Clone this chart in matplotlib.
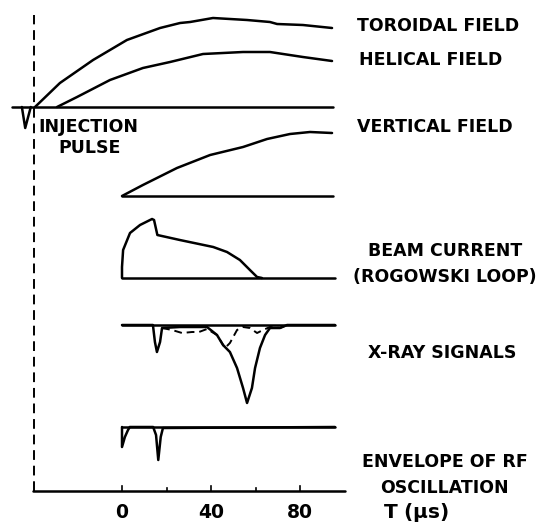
import numpy as np
import matplotlib
matplotlib.use('Agg')
import matplotlib.pyplot as plt

# time axis in microseconds, amplitudes in arbitrary (screen) units, + = up
t_tor = [-39.1, -27.9, -13.0, 2.2, 17.1, 26.1, 30.6, 40.9, 56.2, 66.5, 69.7, 81.3, 94.4]
a_tor = [0, 24, 47, 67, 79, 84, 85, 89, 87, 85, 83, 82, 79]

t_hel = [-29.2, -20.2, -5.4, 9.4, 21.6, 36.4, 54.4, 66.5, 81.3, 94.4]
a_hel = [0, 10, 27, 39, 45, 53, 55, 55, 50, 46]

t_inj = [-45, -43.5, -41]
a_inj = [0, -21, 0]

t_vert = [0, 9.4, 24.7, 39.6, 54.4, 65.2, 75.5, 84.5, 94.4]
a_vert = [0, 11, 28, 41, 49, 57, 62, 64, 63]

t_beam = [0, 0, 0.5, 3.6, 8.1, 13.5, 14.4, 15.9, 26, 41, 47.2, 53, 57.5, 60.7, 62.9]
a_beam = [0, 11, 28, 45, 53, 59, 58, 43, 38, 31, 26, 18, 8, 1, 0]

t_xs = [0, 13.9, 14.8, 15.7, 17.1, 18.0, 26.1, 38.2, 42.7, 45.4, 48.5, 51.7, 54.4,
        56.2, 58.4, 59.8, 62.0, 64.3, 66.5, 71, 74.2, 95.7]
a_xs = [0, 0, -17, -27, -17, -3, -2, -2, -10, -20, -27, -43, -63,
        -78, -63, -43, -23, -10, -3, -3, 0, 0]

t_xd = [18.0, 22.5, 27.0, 31.5, 34.6, 38.2, 42.7, 46.3, 48.5, 51.7, 54.4, 57.5,
        60.7, 63.4, 66.5, 71.0, 74.2]
a_xd = [-3, -5, -8, -7, -7, -4, -10, -23, -18, -5, -2, -3,
        -8, -5, -2, -3, 0]

t_rf = [0, 0, 1.3, 2.7, 3.5, 14, 15.3, 16.3, 17.4, 18.4, 95.7]
a_rf = [0, -20, -10, -3, 0, 0, -8, -33, -10, -1, 0]

ticks_major = [0, 40, 80]
ticks_minor = [20, 60]

labels = ['TOROIDAL FIELD', 'HELICAL FIELD', 'VERTICAL FIELD',
          'BEAM CURRENT\n(ROGOWSKI LOOP)', 'X-RAY SIGNALS',
          'ENVELOPE OF RF\nOSCILLATION']

# layout: baselines (screen units, y up, figure 524 high)
base_tor = 417
base_vert = 328
base_beam = 246
base_xray = 199
base_rf = 97
base_axis = 33

fig = plt.figure(figsize=(5.47, 5.24), dpi=100)
ax = fig.add_axes([0, 0, 1, 1])
ax.set_xlim(-122 / 2.225, (547 - 122) / 2.225)
ax.set_ylim(0, 524)
ax.set_axis_off()

kw = dict(color='black', lw=1.8, solid_capstyle='round', solid_joinstyle='round')

# toroidal / helical + injection pulse on shared baseline
ax.plot([-49.4, 94.8], [base_tor, base_tor], **kw)
ax.plot(t_tor, np.array(a_tor) + base_tor, **kw)
ax.plot(t_hel, np.array(a_hel) + base_tor, **kw)
ax.plot(t_inj, np.array(a_inj) + base_tor, **kw)

# vertical field
ax.plot([0, 94.8], [base_vert, base_vert], **kw)
ax.plot(t_vert, np.array(a_vert) + base_vert, **kw)

# beam current
ax.plot([0, 95.7], [base_beam, base_beam], **kw)
ax.plot(t_beam, np.array(a_beam) + base_beam, **kw)

# x-ray signals
ax.plot([0, 95.7], [base_xray, base_xray], **kw)
ax.plot(t_xs, np.array(a_xs) + base_xray, **kw)
ax.plot(t_xd, np.array(a_xd) + base_xray, color='black', lw=1.4, ls=(0, (4, 2.5)))

# rf envelope
ax.plot([0, 95.7], [base_rf, base_rf], **kw)
ax.plot(t_rf, np.array(a_rf) + base_rf, **kw)

# time axis
ax.plot([-40, 100], [base_axis, base_axis], **kw)
for t in ticks_major:
    ax.plot([t, t], [base_axis, base_axis + 5], color='black', lw=1.2)
    ax.text(t, base_axis - 21, str(t), ha='center', va='center',
            fontsize=13.5, fontweight='bold')
for t in ticks_minor:
    ax.plot([t, t], [base_axis, base_axis + 3], color='black', lw=1.2)
ax.text(132, base_axis - 21, r'T ($\mathbf{\mu}$s)', ha='center', va='center',
        fontsize=14.5, fontweight='bold')

# injection marker
ax.plot([-39.6, -39.6], [base_axis, 509], color='black', lw=1.4, ls=(0, (5, 3)))
ax.text(-37.5, 397, 'INJECTION', ha='left', va='center', fontsize=12.5, fontweight='bold')
ax.text(-28.5, 376, 'PULSE', ha='left', va='center', fontsize=12.5, fontweight='bold')

# right-hand labels
lab_y = [498, 464, 397, 260, 171, 49]
lab_x = [105.6, 106.5, 105.6, 145, 144, 145]
lab_ha = ['left', 'left', 'left', 'center', 'center', 'center']
for s, x, y, h in zip(labels, lab_x, lab_y, lab_ha):
    ax.text(x, y, s, ha=h, va='center', fontsize=12.5, fontweight='bold',
            linespacing=1.55)

fig.savefig('out.png', dpi=100)
